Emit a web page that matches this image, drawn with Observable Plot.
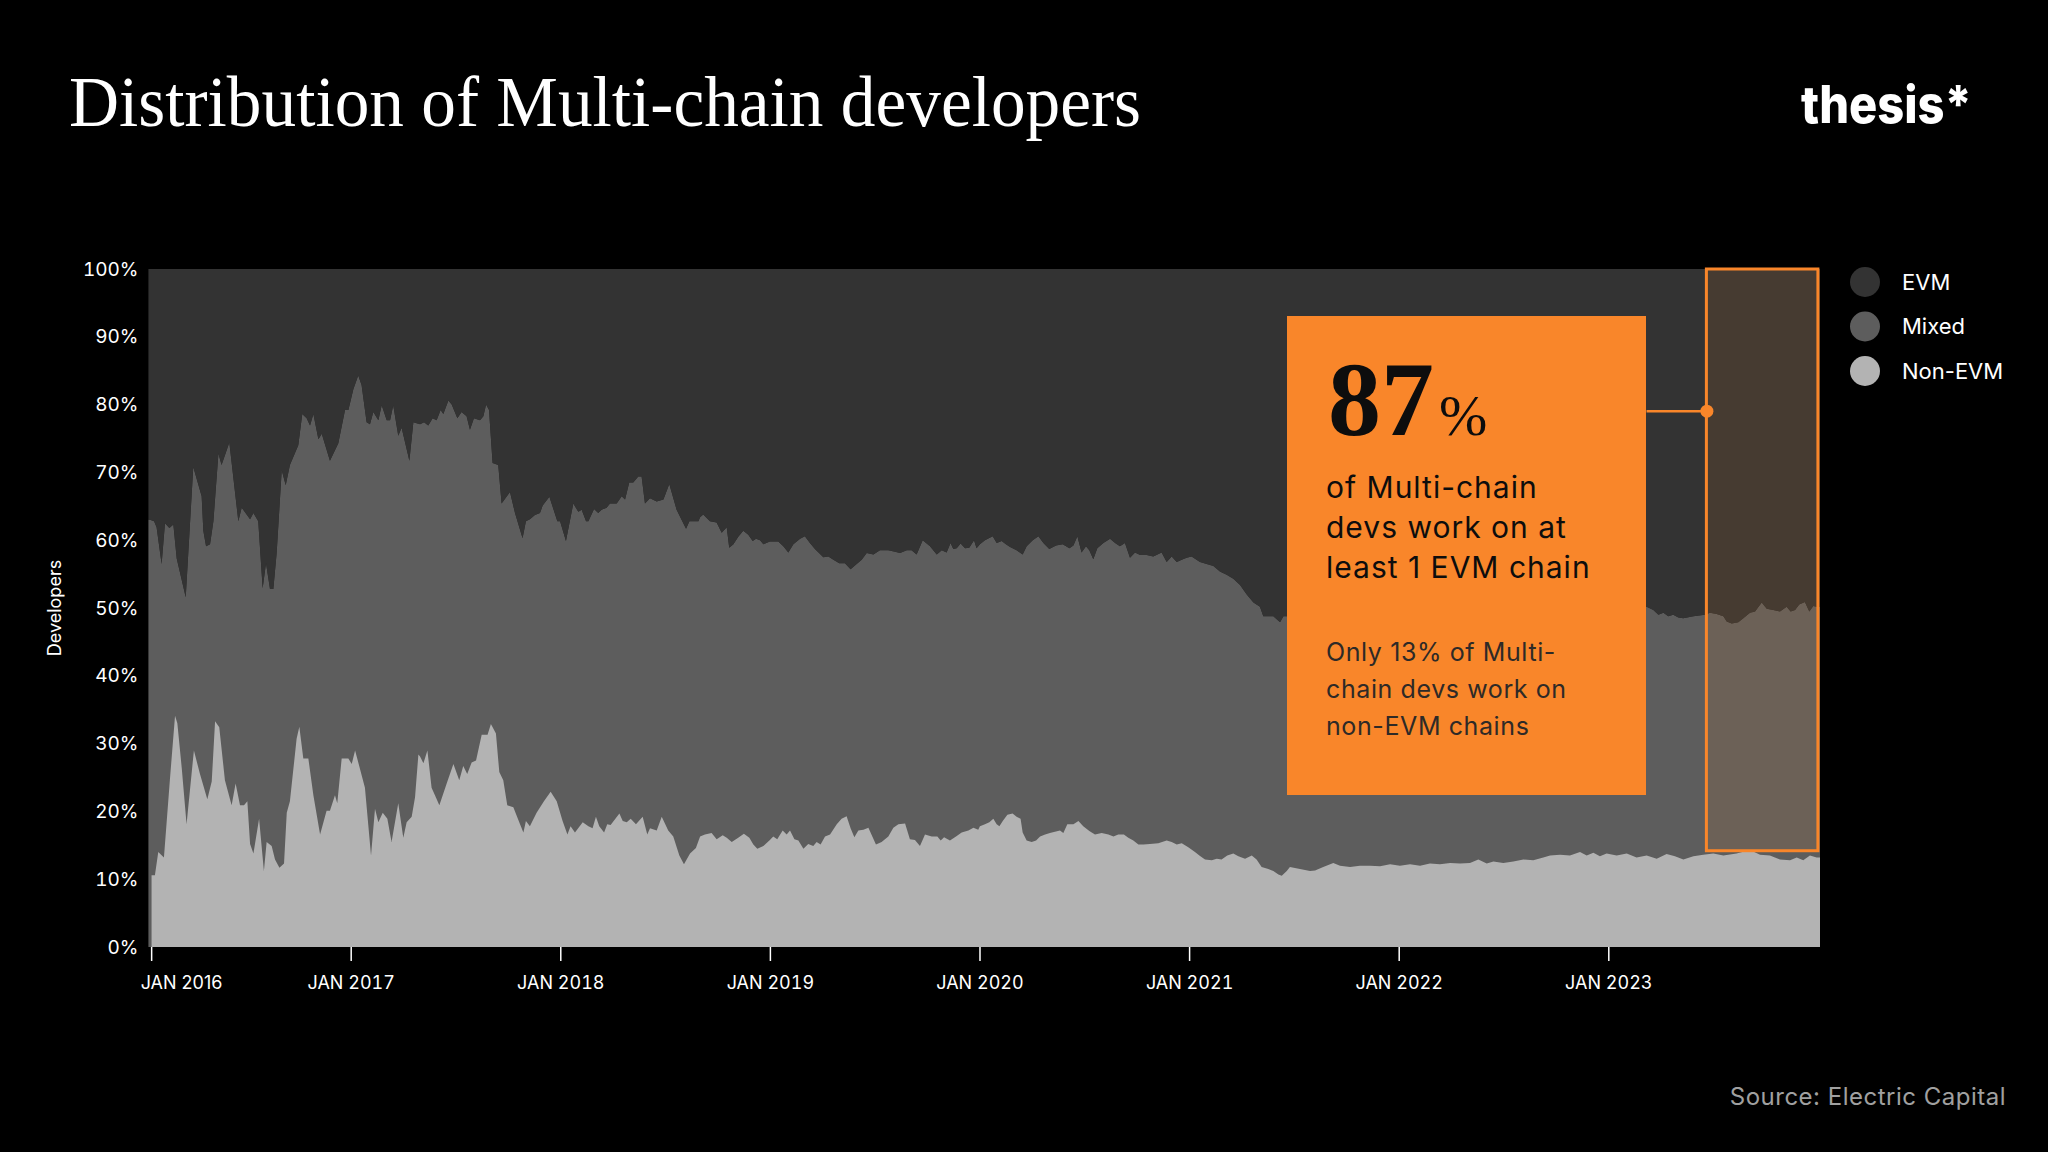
<!DOCTYPE html>
<html>
<head>
<meta charset="utf-8">
<script src="https://cdn.jsdelivr.net/npm/d3@7"></script>
<script src="https://cdn.jsdelivr.net/npm/@observablehq/plot@0.6"></script>
<style>
  html, body { margin: 0; padding: 0; background: #000; overflow: hidden; }
  #wrap { position: relative; width: 2048px; height: 1152px; background: #000; }
  #wrap > svg { position: absolute; left: 0; top: 0; }
  #overlay { pointer-events: none; }
</style>
</head>
<body>
<div id="wrap"></div>
<script>
// ---------- DATA (decimal year, percent of multi-chain developers) ----------
const seriesNames = ["EVM", "Mixed", "Non-EVM"];
const seriesColors = ["#333333", "#5d5d5d", "#b3b3b3"];

// Share of developers working only on EVM chains
const evmShare = [
[2016.035,37.0],[2016.043,37.0],[2016.062,37.2],[2016.074,38.1],[2016.098,43.5],[2016.114,37.5],[2016.135,38.2],[2016.154,37.7],[2016.170,42.7],[2016.213,48.4],[2016.249,29.2],[2016.289,33.5],[2016.297,38.6],[2016.310,40.9],[2016.329,40.6],[2016.345,37.2],[2016.369,27.2],[2016.384,28.9],[2016.421,25.6],[2016.464,37.2],[2016.480,35.2],[2016.520,36.9],[2016.536,36.0],[2016.559,37.2],[2016.580,47.1],[2016.596,43.4],[2016.615,47.2],[2016.631,47.2],[2016.647,41.8],[2016.671,29.7],[2016.690,31.9],[2016.710,28.9],[2016.750,26.0],[2016.769,21.4],[2016.790,22.0],[2016.806,23.1],[2016.822,21.4],[2016.846,25.1],[2016.862,24.3],[2016.901,28.3],[2016.941,25.7],[2016.973,20.8],[2016.989,20.8],[2017.013,17.7],[2017.036,15.7],[2017.052,17.1],[2017.076,22.6],[2017.092,22.9],[2017.108,21.1],[2017.132,22.3],[2017.148,20.1],[2017.172,22.3],[2017.188,22.3],[2017.203,20.1],[2017.227,24.6],[2017.243,23.4],[2017.280,28.3],[2017.299,22.6],
[2017.331,22.9],[2017.350,22.6],[2017.370,23.1],[2017.391,22.0],[2017.410,22.3],[2017.429,20.8],[2017.442,21.4],[2017.466,19.4],[2017.482,20.0],[2017.509,22.0],[2017.529,21.1],[2017.553,21.7],[2017.569,23.7],[2017.588,22.0],[2017.617,22.3],[2017.633,21.7],[2017.646,20.0],[2017.660,20.8],[2017.677,28.6],[2017.704,28.9],[2017.720,34.6],[2017.760,32.9],[2017.784,36.0],[2017.820,39.7],[2017.836,37.2],[2017.855,36.9],[2017.879,36.3],[2017.903,36.0],[2017.916,34.9],[2017.948,33.6],[2017.986,37.2],[2017.999,37.2],[2018.027,40.1],[2018.062,34.6],[2018.086,35.8],[2018.102,35.5],[2018.123,37.2],[2018.134,37.2],[2018.161,35.4],[2018.181,36.0],[2018.197,35.5],[2018.221,35.2],[2018.237,34.6],[2018.269,34.6],[2018.293,33.5],[2018.309,34.0],[2018.329,31.5],[2018.348,31.5],[2018.372,30.6],[2018.388,30.6],[2018.404,34.6],[2018.428,33.8],[2018.460,34.3],[2018.492,34.0],[2018.520,31.7],[2018.555,35.5],[2018.600,38.3],[2018.616,37.2],[2018.659,37.2],
[2018.667,36.6],[2018.682,36.2],[2018.714,37.2],[2018.746,37.4],[2018.770,38.9],[2018.794,38.1],[2018.806,41.1],[2018.826,40.6],[2018.849,39.5],[2018.873,38.6],[2018.897,39.2],[2018.918,40.1],[2018.934,39.8],[2018.953,40.0],[2018.969,40.6],[2019.000,40.2],[2019.040,40.2],[2019.064,40.9],[2019.088,41.8],[2019.112,40.6],[2019.144,39.8],[2019.167,39.4],[2019.191,40.4],[2019.215,41.3],[2019.255,42.5],[2019.279,42.4],[2019.303,42.9],[2019.331,43.4],[2019.358,43.4],[2019.385,44.3],[2019.414,43.5],[2019.438,42.9],[2019.462,41.9],[2019.494,42.1],[2019.525,41.5],[2019.565,41.5],[2019.597,41.7],[2019.621,41.9],[2019.653,41.5],[2019.676,41.5],[2019.700,42.1],[2019.729,40.0],[2019.764,40.9],[2019.796,42.1],[2019.820,41.5],[2019.843,41.8],[2019.862,40.4],[2019.875,41.3],[2019.891,41.2],[2019.910,40.5],[2019.931,41.2],[2019.951,41.1],[2019.974,40.0],[2019.986,41.2],
[2020.002,40.6],[2020.026,40.0],[2020.063,39.4],[2020.082,40.4],[2020.106,40.1],[2020.126,40.6],[2020.146,41.0],[2020.177,41.5],[2020.206,42.1],[2020.225,40.9],[2020.254,40.0],[2020.281,39.4],[2020.305,40.4],[2020.333,41.3],[2020.365,40.8],[2020.397,40.6],[2020.429,41.2],[2020.448,40.8],[2020.467,39.4],[2020.487,41.8],[2020.508,40.9],[2020.524,41.5],[2020.543,42.8],[2020.562,41.2],[2020.591,40.4],[2020.623,39.8],[2020.647,40.4],[2020.670,40.9],[2020.694,40.4],[2020.718,42.6],[2020.742,41.8],[2020.766,42.2],[2020.798,42.2],[2020.829,42.4],[2020.869,41.8],[2020.893,43.2],[2020.917,42.4],[2020.941,43.2],[2020.965,42.9],[2020.988,42.6],[2021.012,42.4],[2021.052,43.2],[2021.084,43.5],[2021.116,43.8],[2021.147,44.6],[2021.179,45.1],[2021.211,45.7],[2021.243,46.6],[2021.275,48.0],[2021.307,49.2],[2021.338,49.8],[2021.354,51.2],[2021.402,51.2],[2021.434,52.1],[2021.450,51.2],[2021.466,51.2],
[2021.55,51.8],[2021.65,52.4],[2021.75,51.6],[2021.85,52.0],[2021.95,51.4],[2022.05,51.9],[2022.15,51.2],[2022.25,51.7],[2022.35,51.0],[2022.45,51.5],[2022.55,50.8],[2022.65,51.3],[2022.75,50.6],[2022.85,51.1],[2022.95,50.4],[2023.05,50.8],[2023.13,50.2],
[2023.183,49.8],[2023.215,50.3],[2023.239,51.0],[2023.263,50.7],[2023.286,51.2],[2023.310,51.0],[2023.334,51.4],[2023.358,51.5],[2023.406,51.2],[2023.461,51.0],[2023.485,50.7],[2023.517,50.9],[2023.549,51.2],[2023.565,52.0],[2023.589,52.3],[2023.620,52.1],[2023.644,51.5],[2023.676,50.7],[2023.700,50.5],[2023.732,49.2],[2023.756,50.1],[2023.787,50.3],[2023.819,50.5],[2023.851,49.8],[2023.870,50.5],[2023.891,50.3],[2023.911,49.5],[2023.938,49.1],[2023.959,50.5],[2023.978,49.7],[2023.994,49.8],[2024.010,49.8]
];

// Share of developers working only on non-EVM chains
const nonEvmShare = [
[2016.050,10.6],[2016.066,10.6],[2016.082,14.0],[2016.109,13.2],[2016.138,24.9],[2016.162,34.1],[2016.173,33.0],[2016.194,26.4],[2016.217,18.1],[2016.252,29.0],[2016.281,25.5],[2016.316,21.8],[2016.337,24.4],[2016.353,33.3],[2016.373,32.4],[2016.400,24.6],[2016.432,20.9],[2016.451,24.1],[2016.472,20.9],[2016.491,20.9],[2016.507,21.5],[2016.520,15.2],[2016.536,13.8],[2016.563,18.9],[2016.586,11.2],[2016.599,15.5],[2016.623,14.9],[2016.639,12.9],[2016.660,11.7],[2016.682,12.3],[2016.695,19.8],[2016.710,21.5],[2016.742,30.7],[2016.755,32.5],[2016.774,27.8],[2016.798,27.8],[2016.822,22.4],[2016.854,16.6],[2016.885,20.1],[2016.901,20.1],[2016.925,22.4],[2016.936,21.2],[2016.957,27.8],[2016.989,27.8],[2017.005,27.0],[2017.021,29.0],[2017.068,23.5],[2017.097,13.5],[2017.116,20.4],[2017.132,18.4],[2017.153,19.8],[2017.175,18.9],[2017.195,15.5],[2017.227,21.2],[2017.251,16.1],[2017.267,18.4],[2017.291,19.2],[2017.307,22.1],[2017.323,28.4],
[2017.331,28.1],[2017.347,27.1],[2017.366,29.0],[2017.386,23.5],[2017.402,22.4],[2017.423,20.9],[2017.458,24.1],[2017.490,27.0],[2017.518,24.6],[2017.537,26.7],[2017.556,25.5],[2017.577,27.2],[2017.598,27.5],[2017.625,31.3],[2017.653,31.3],[2017.669,32.9],[2017.693,31.5],[2017.709,25.8],[2017.728,24.6],[2017.747,20.9],[2017.776,20.6],[2017.808,18.1],[2017.824,16.9],[2017.836,18.6],[2017.855,17.8],[2017.887,19.8],[2017.922,21.5],[2017.954,22.9],[2017.983,21.5],[2018.011,18.6],[2018.034,16.6],[2018.049,17.8],[2018.070,16.9],[2018.107,18.4],[2018.134,17.8],[2018.154,17.5],[2018.170,19.2],[2018.186,17.8],[2018.209,16.9],[2018.224,18.1],[2018.240,18.0],[2018.282,19.7],[2018.298,18.6],[2018.317,18.4],[2018.336,18.9],[2018.361,18.1],[2018.393,19.2],[2018.415,16.6],[2018.428,17.5],[2018.460,17.2],[2018.484,19.2],[2018.515,17.2],[2018.539,16.3],[2018.568,13.5],[2018.590,12.2],[2018.619,13.8],[2018.647,14.6],
[2018.667,16.3],[2018.690,16.6],[2018.722,16.8],[2018.746,15.9],[2018.775,16.5],[2018.794,16.1],[2018.818,15.5],[2018.849,16.1],[2018.876,16.7],[2018.902,16.1],[2018.921,15.1],[2018.940,14.5],[2018.969,14.9],[2019.000,15.8],[2019.016,16.3],[2019.035,15.9],[2019.061,17.2],[2019.080,16.6],[2019.096,17.2],[2019.117,15.9],[2019.136,15.7],[2019.160,14.5],[2019.183,15.2],[2019.207,14.9],[2019.223,15.5],[2019.242,15.1],[2019.263,16.3],[2019.287,16.6],[2019.319,18.1],[2019.342,18.9],[2019.366,19.3],[2019.385,17.5],[2019.403,16.2],[2019.422,17.2],[2019.446,17.3],[2019.470,17.6],[2019.506,15.1],[2019.533,15.5],[2019.565,16.3],[2019.589,17.6],[2019.613,18.1],[2019.645,18.2],[2019.668,15.9],[2019.692,15.8],[2019.716,14.9],[2019.740,16.6],[2019.772,16.3],[2019.799,16.3],[2019.815,15.7],[2019.831,16.2],[2019.859,15.7],[2019.888,16.3],[2019.915,16.9],[2019.947,17.2],[2019.971,17.6],[2019.994,17.3],
[2020.002,17.8],[2020.026,18.1],[2020.047,18.4],[2020.066,18.9],[2020.082,18.1],[2020.095,17.8],[2020.111,18.6],[2020.133,19.5],[2020.158,19.7],[2020.177,19.2],[2020.196,18.9],[2020.206,16.9],[2020.225,15.7],[2020.249,15.5],[2020.270,15.7],[2020.289,16.3],[2020.313,16.6],[2020.336,16.8],[2020.360,17.0],[2020.384,17.2],[2020.400,16.8],[2020.419,18.1],[2020.448,18.1],[2020.472,18.6],[2020.495,17.8],[2020.524,17.1],[2020.551,16.6],[2020.583,16.8],[2020.615,16.6],[2020.639,16.3],[2020.662,16.6],[2020.689,16.6],[2020.710,16.1],[2020.734,15.7],[2020.758,15.1],[2020.782,15.1],[2020.813,15.2],[2020.853,15.3],[2020.893,15.7],[2020.917,15.5],[2020.941,15.1],[2020.965,15.3],[2020.996,14.7],[2021.028,14.0],[2021.049,13.5],[2021.076,12.9],[2021.108,12.8],[2021.132,13.0],[2021.155,12.9],[2021.182,13.5],[2021.211,13.8],[2021.235,13.4],[2021.267,13.0],[2021.299,13.5],[2021.322,12.9],[2021.346,11.8],[2021.378,11.5],[2021.402,11.2],[2021.426,10.7],[2021.442,10.5],[2021.466,11.2],
[2021.481,11.8],[2021.529,11.5],[2021.577,11.2],[2021.601,11.3],[2021.640,11.8],[2021.688,12.4],[2021.720,12.0],[2021.768,11.8],[2021.815,12.0],[2021.863,12.0],[2021.911,11.9],[2021.959,12.2],[2022.006,12.0],[2022.054,12.2],[2022.102,12.0],[2022.149,12.3],[2022.197,12.2],[2022.245,12.4],[2022.293,12.3],[2022.340,12.4],[2022.380,12.9],[2022.420,12.3],[2022.452,12.6],[2022.499,12.4],[2022.547,12.6],[2022.595,12.9],[2022.642,12.8],[2022.690,13.2],
[2022.722,13.5],[2022.770,13.6],[2022.817,13.5],[2022.865,14.0],[2022.897,13.5],[2022.929,13.9],[2022.960,13.4],[2022.992,13.8],[2023.040,13.5],[2023.088,13.8],[2023.135,13.2],[2023.183,13.5],[2023.231,13.0],[2023.278,13.7],[2023.318,13.4],[2023.358,12.9],[2023.406,13.4],[2023.453,13.6],[2023.501,13.8],[2023.549,13.5],[2023.612,13.8],[2023.676,14.3],[2023.724,13.6],[2023.771,13.5],[2023.819,12.9],[2023.867,12.8],[2023.899,13.2],[2023.930,12.8],[2023.962,13.5],[2023.994,13.2],[2024.010,13.2]
];

const xDomain = [2016.033, 2024.010];
const xTickValues = [2016.048, 2017, 2018, 2019, 2020, 2021, 2022, 2023];
const xTickLabels = ["JAN 2016", "JAN 2017", "JAN 2018", "JAN 2019", "JAN 2020", "JAN 2021", "JAN 2022", "JAN 2023"];
const yTickValues = [0, 10, 20, 30, 40, 50, 60, 70, 80, 90, 100];

// Highlighted period (latest months) and its callout
const highlight = [{x1: 2023.468, x2: 2024.000, y1: 14.2, y2: 100}];
const connector = [{x1: 2023.180, x2: 2023.468, y: 79.1}];
const orange = "#F9862A";

// ---------- CHART ----------
const evmRows = evmShare.map(([t, v]) => ({t, top: 100 - v}));
const nonRows = nonEvmShare.map(([t, v]) => ({t, v}));
const tickLabel = new Map(xTickValues.map((v, i) => [v, xTickLabels[i]]));

const chart = Plot.plot({
  width: 2048,
  height: 1152,
  marginLeft: 148,
  marginRight: 228,
  marginTop: 269,
  marginBottom: 205,
  style: {background: "#000", color: "#ffffff", fontFamily: "Inter, 'Noto Sans', sans-serif"},
  x: {type: "linear", domain: xDomain},
  y: {domain: [0, 100]},
  marks: [
    Plot.areaY(evmRows, {x: "t", y1: "top", y2: 100, fill: seriesColors[0]}),
    Plot.areaY(evmRows, {x: "t", y1: 0, y2: "top", fill: seriesColors[1]}),
    Plot.areaY(nonRows, {x: "t", y1: 0, y2: "v", fill: seriesColors[2]}),
    Plot.rect(highlight, {x1: "x1", x2: "x2", y1: "y1", y2: "y2", fill: orange, fillOpacity: 0.1, stroke: orange, strokeWidth: 3}),
    Plot.link(connector, {x1: "x1", x2: "x2", y1: "y", y2: "y", stroke: orange, strokeWidth: 2.5}),
    Plot.dot(connector, {x: "x2", y: "y", r: 6.5, fill: orange}),
    Plot.axisY({ticks: yTickValues, tickFormat: d => `${d}%`, tickSize: 0, tickPadding: 10, fontSize: 19, label: null}),
    Plot.axisX({ticks: xTickValues.slice(1), tickFormat: d => tickLabel.get(d), tickSize: 14, tickPadding: 15, fontSize: 18, strokeWidth: 1.5, label: null}),
    Plot.axisX({ticks: xTickValues.slice(0, 1), tickFormat: () => "", tickSize: 14, tickPadding: 15, strokeWidth: 1.5, label: null}),
    Plot.text(xTickValues.slice(0, 1), {x: d => d, text: d => tickLabel.get(d), frameAnchor: "bottom", lineAnchor: "top", dy: 29, dx: -11, textAnchor: "start", fontSize: 18, fill: "#ffffff"})
  ]
});
document.getElementById("wrap").appendChild(chart);

// ---------- TITLE, LOGO, LEGEND, CALLOUT, SOURCE ----------
const legendRows = seriesNames.map((name, i) => `
  <circle cx="1865" cy="${282 + i * 44.5}" r="15" fill="${seriesColors[i]}"/>
  <text x="1902" y="${282 + i * 44.5}" dy="0.36em" font-size="22" fill="#fff">${name}</text>`).join("");

const overlay = `
<svg id="overlay" width="2048" height="1152" viewBox="0 0 2048 1152" xmlns="http://www.w3.org/2000/svg" font-family="Inter, 'Noto Sans', sans-serif">
  <text x="69" y="126" font-family="'Liberation Serif', serif" font-size="71" fill="#fff" textLength="1072" lengthAdjust="spacingAndGlyphs">Distribution of Multi-chain developers</text>
  <text x="1801" y="123" font-family="Inter, sans-serif" font-weight="800" font-size="52" fill="#fff" textLength="171" lengthAdjust="spacingAndGlyphs">thesis*</text>
  <text transform="translate(55,608) rotate(-90)" text-anchor="middle" dy="0.35em" font-size="18" fill="#fff">Developers</text>
  ${legendRows}
  <rect x="1287" y="316" width="359" height="479" fill="${orange}"/>
  <text x="1328" y="435" fill="#0d0d0d"><tspan font-family="'Liberation Serif', serif" font-weight="700" font-size="106">87</tspan><tspan font-family="'Liberation Serif', serif" font-size="58" dx="5">%</tspan></text>
  <text x="1326" font-size="30" letter-spacing="1" fill="#0d0d0d">
    <tspan x="1326" y="498">of Multi-chain</tspan>
    <tspan x="1326" y="538">devs work on at</tspan>
    <tspan x="1326" y="578">least 1 EVM chain</tspan>
  </text>
  <text x="1326" font-size="25" letter-spacing="0.6" fill="#2e2a27">
    <tspan x="1326" y="661">Only 13% of Multi-</tspan>
    <tspan x="1326" y="698">chain devs work on</tspan>
    <tspan x="1326" y="735">non-EVM chains</tspan>
  </text>
  <text x="2006" y="1105" text-anchor="end" font-size="24" letter-spacing="0.5" fill="#a0a0a0">Source: Electric Capital</text>
</svg>`;
document.getElementById("wrap").insertAdjacentHTML("beforeend", overlay);
</script>
</body>
</html>
